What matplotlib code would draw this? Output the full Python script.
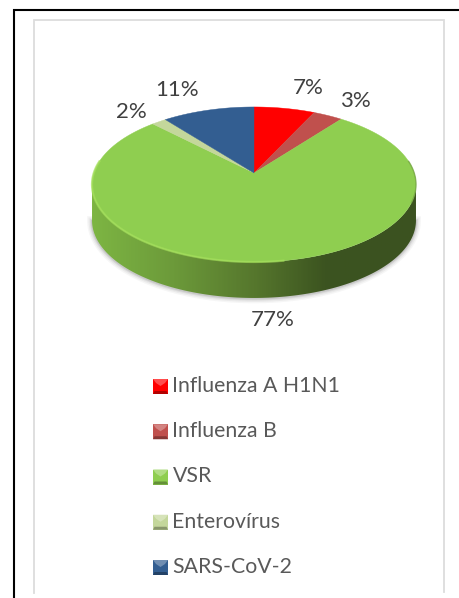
import numpy as np
import matplotlib
matplotlib.use("Agg")
import matplotlib.pyplot as plt
from matplotlib.colors import LinearSegmentedColormap
from matplotlib.patches import Polygon, Rectangle

plt.rcParams["font.family"] = ["Lato", "DejaVu Sans"]

categories = ["Influenza A H1N1", "Influenza B", "VSR", "Enterovírus", "SARS-CoV-2"]
values = [7.0, 3.4, 77.3, 1.7, 10.6]
colors = ["#FF0000", "#C0504D", "#8FCE50", "#C4D79B", "#335E91"]
label_pos = [(308, 88), (355, 101), (273, 320), (131, 112), (177, 90)]

# pie projection, all in image pixels
CX, CY = 254, 173
A, B, K = 160.2, 75.8, 0.148
DEPTH = 36


def rim(phi):
    w = 1 + K * np.cos(phi)
    return CX + A * np.sin(phi) / w, CY - B * np.cos(phi) / w


def lighten(color, f):
    c = np.array(matplotlib.colors.to_rgb(color))
    return tuple(c + (1 - c) * f) if f > 0 else tuple(c * (1 + f))


fig = plt.figure(figsize=(4.6, 5.98), dpi=100)
ax = fig.add_axes([0, 0, 1, 1])
ax.set_xlim(0, 460)
ax.set_ylim(598, 0)
ax.axis("off")

# frames
ax.plot([14, 14, 460], [598, 9.5, 9.5], color="black", lw=1.5, solid_joinstyle="miter")
ax.plot([34, 34, 444.5, 444.5], [593, 20, 20, 592], color="#DCDCDC", lw=1.3, solid_joinstyle="miter")

# side of the disc
phi_r = np.arccos(-K)
side_phi = np.linspace(phi_r, 2 * np.pi - phi_r, 200)
sx, sy = rim(side_phi)
side_xy = np.r_[np.c_[sx, sy], np.c_[sx[::-1], sy[::-1] + DEPTH]]

# soft shadow under the side
for grow, alpha in [(7, 0.05), (5, 0.07), (3, 0.1), (1.5, 0.14)]:
    ax.plot(sx, sy + DEPTH + 0.5, color="#555555", lw=grow, alpha=alpha, zorder=1)

side_cmap = LinearSegmentedColormap.from_list(
    "side",
    [(0, "#7DB543"), (0.25, "#6C9A3A"), (0.5, "#56772D"), (0.72, "#3C5420"), (1, "#3B5220")],
)
grad = ax.imshow(np.linspace(0, 1, 330)[None, :], cmap=side_cmap, aspect="auto",
                 extent=[sx.min(), sx.max(), 300, 170], zorder=2)
clip = Polygon(side_xy, closed=True, transform=ax.transData, fc="none", ec="none")
ax.add_patch(clip)
grad.set_clip_path(clip)
ax.set_xlim(0, 460)
ax.set_ylim(598, 0)

# top face wedges, clockwise from 12 o'clock
edges = np.r_[0, np.cumsum(values)] / sum(values) * 2 * np.pi
for i, color in enumerate(colors):
    px, py = rim(np.linspace(edges[i], edges[i + 1], 120))
    ax.add_patch(Polygon(np.r_[[[CX, CY]], np.c_[px, py]], closed=True, fc=color, ec=color, lw=0.3, zorder=3))

# light bevel along the front rim
bevel_phi = np.linspace(np.pi * 0.95, np.pi * 1.55, 120)
bx, by = rim(bevel_phi)
ax.plot(bx, by, color="#A4E05A", lw=1.6, alpha=0.7, zorder=4)
dark_phi = np.linspace(np.pi * 0.45, np.pi * 0.62, 40)
dx, dy = rim(dark_phi)
ax.plot(dx, dy, color="#6F9F3E", lw=1, alpha=0.7, zorder=4)

# percent labels
for v, (x, y) in zip(values, label_pos):
    ax.text(x, y, f"{v:.0f}%", fontsize=16, color="#404040", ha="center", va="center", zorder=5)

# legend
for i, (name, color) in enumerate(zip(categories, colors)):
    y = 386 + i * 45.25
    x0, y0, s = 153, y - 7, 15
    ax.add_patch(Rectangle((x0, y0), s, s, fc=color, ec="none", zorder=3))
    ax.add_patch(Polygon([(x0, y0), (x0 + s, y0), (x0 + s - 3, y0 + 4), (x0 + s / 2, y0 + 7), (x0 + 3, y0 + 4)],
                         fc=lighten(color, 0.3), ec="none", zorder=4))
    ax.add_patch(Polygon([(x0, y0 + s), (x0 + s, y0 + s), (x0 + s - 1.5, y0 + s - 3), (x0 + 1.5, y0 + s - 3)],
                         fc=lighten(color, -0.3), ec="none", zorder=4))
    ax.text(172.5, y, name, fontsize=15.3, color="#595959", ha="left", va="center", zorder=5)

fig.savefig("out.png", dpi=100)
